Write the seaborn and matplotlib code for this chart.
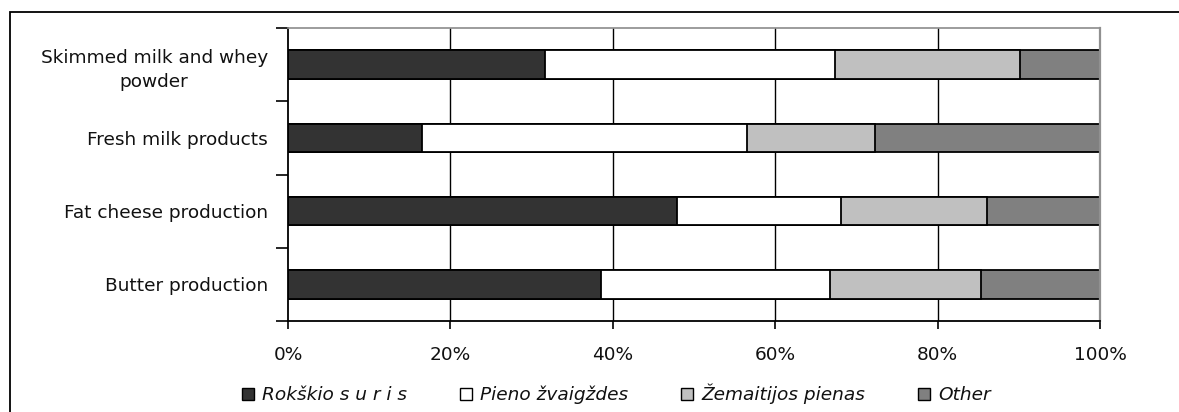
import matplotlib
matplotlib.use("Agg")
import matplotlib.pyplot as plt
import matplotlib.patches as mpatches
import numpy as np
import pandas as pd
import seaborn as sns

categories = ["Skimmed milk and whey\npowder", "Fresh milk products",
              "Fat cheese production", "Butter production"]
series_names = ["Rokškio s u r i s", "Pieno žvaigždes", "Žemaitijos pienas", "Other"]
rokiskio = [31.6, 16.5, 47.9, 38.5]
pieno = [35.8, 40.0, 20.2, 28.3]
zemaitijos = [22.7, 15.8, 18.0, 18.6]
other = [9.9, 27.7, 13.9, 14.6]
colors = ["#333333", "#ffffff", "#c0c0c0", "#808080"]

sns.set_theme(style="white")
plt.rcParams['font.family'] = ['DejaVu Sans']
FS = 13.3

df = pd.DataFrame({"category": categories, series_names[0]: rokiskio,
                   series_names[1]: pieno, series_names[2]: zemaitijos,
                   series_names[3]: other})
cum = df[series_names].cumsum(axis=1)

fig = plt.figure(figsize=(11.79, 4.12), dpi=100)
ax = fig.add_axes([288 / 1179, 1 - 321 / 412, 812 / 1179, 293 / 412])

# outer frame (clipped at right/bottom like the source)
fig.patches.append(mpatches.Rectangle((10 / 1179, -0.1), 1.2, 1 - 12 / 412 + 0.1,
                                      transform=fig.transFigure, fill=False,
                                      edgecolor="black", linewidth=1.3, zorder=0))

for xv in [20, 40, 60, 80]:
    ax.axvline(xv, color="black", linewidth=1.0, zorder=0)

# overlay bars from the longest cumulative down so each segment shows
for name, col in reversed(list(zip(series_names, colors))):
    sns.barplot(x=cum[name], y=df["category"], color=col, edgecolor="black",
                linewidth=1.3, width=0.39, orient="h", ax=ax, zorder=2,
                saturation=1)

ax.set_xlim(0, 100)
ax.set_ylim(3.5, -0.5)
ax.set_xlabel("")
ax.set_ylabel("")
ax.set_xticks([0, 20, 40, 60, 80, 100])
ax.set_xticklabels([f"{v}%" for v in [0, 20, 40, 60, 80, 100]])
ax.set_yticks(range(4))
ax.set_yticklabels(categories, multialignment="center", linespacing=1.45)
ax.set_yticks([-0.5, 0.5, 1.5, 2.5, 3.5], minor=True)
ax.tick_params(axis="y", which="major", length=0, pad=14.5, labelsize=FS)
ax.tick_params(axis="y", which="minor", length=9, width=1.2, color="black", left=True)
ax.tick_params(axis="x", which="major", length=6, width=1.2, color="black",
               bottom=True, labelsize=FS, pad=12)
for lab in ax.get_xticklabels() + ax.get_yticklabels():
    lab.set_color("#111111")

ax.spines["left"].set_color("black")
ax.spines["bottom"].set_color("black")
ax.spines["left"].set_linewidth(1.3)
ax.spines["bottom"].set_linewidth(1.3)
ax.spines["top"].set_color("#909090")
ax.spines["right"].set_color("#909090")
ax.spines["right"].set_linewidth(1.6)
ax.grid(False)

handles = [mpatches.Patch(facecolor=c, edgecolor="black", linewidth=1.0) for c in colors]
leg = fig.legend(handles, series_names, loc="center left", ncol=4,
                 bbox_to_anchor=(242 / 1179, 1 - 394 / 412), frameon=False,
                 borderpad=0, borderaxespad=0,
                 handlelength=0.65, handleheight=0.6, handletextpad=0.45,
                 columnspacing=2.85, prop={"style": "italic", "size": FS})
for t in leg.get_texts():
    t.set_color("#111111")

fig.savefig("out.png", dpi=100)
